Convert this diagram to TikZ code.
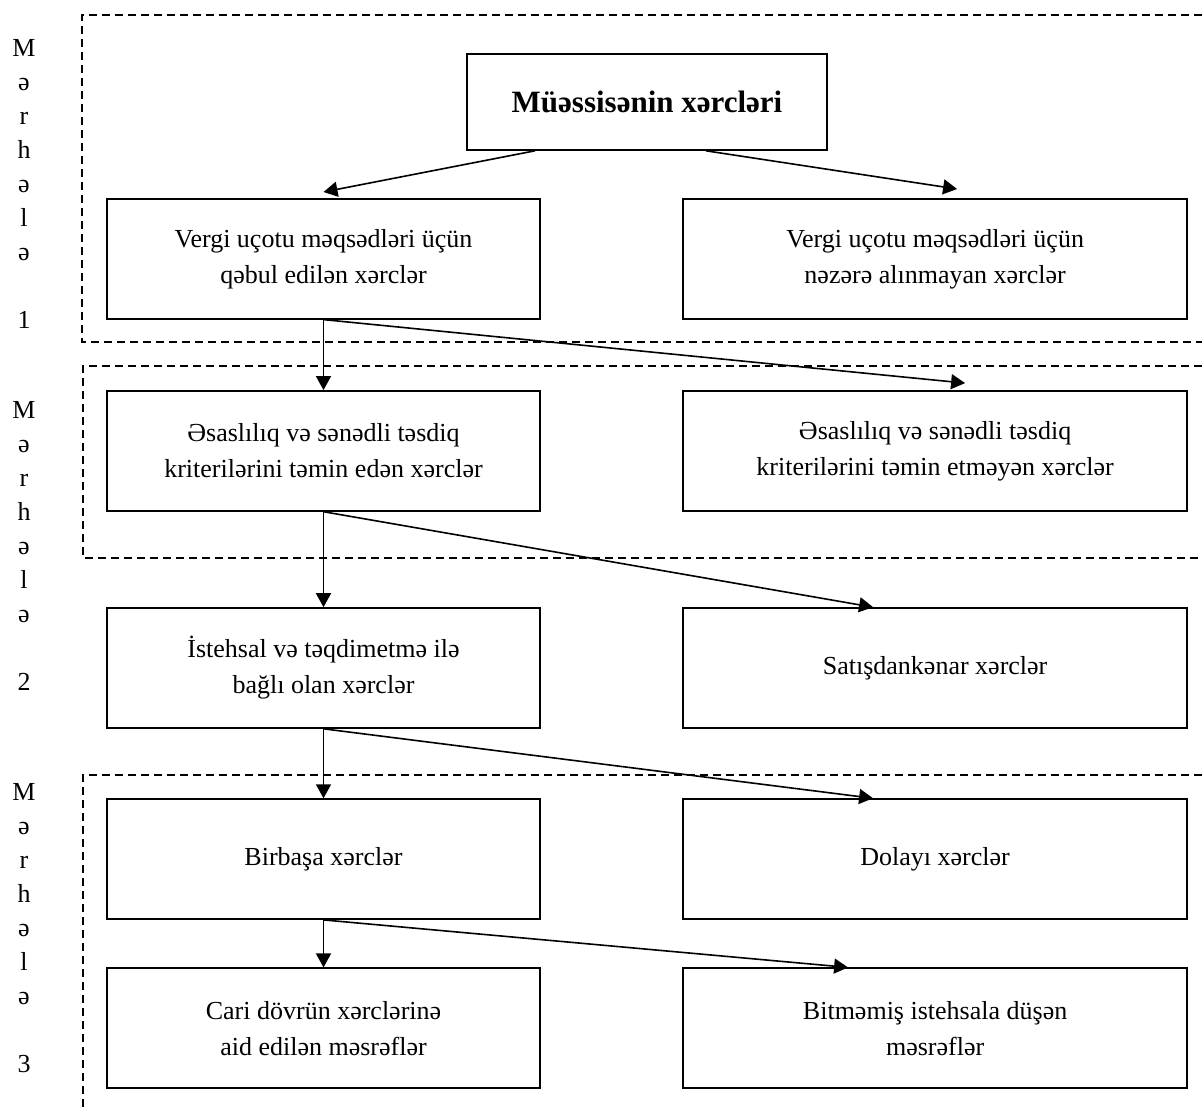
\documentclass[tikz,border=0pt]{standalone}
\usepackage{fontspec}
\setmainfont{Liberation Serif}
\usepackage{tikz}
\usetikzlibrary{arrows.meta, positioning}

\begin{document}
\begin{tikzpicture}[x=1pt, y=-1pt, >={Triangle[length=14pt, width=15pt]},
  box/.style={draw, line width=1.6pt, align=center, inner sep=0pt, font=\fontsize{26}{36}\selectfont},
  lbox/.style={box, minimum width=433pt, minimum height=120pt},
  rbox/.style={box, minimum width=504pt, minimum height=120pt},
  stage/.style={align=center, inner sep=0pt, font=\fontsize{26}{34}\selectfont},
  frame/.style={line width=1.3pt, dash pattern=on 8pt off 5pt},
  link/.style={->, line width=1.6pt}]

\useasboundingbox (0,0) rectangle (1202,1106);

% Stage frames
\draw[frame] (1215,15) -| (82,342) -- (1215,342);
\draw[frame] (1215,366) -| (83,558) -- (1215,558);
\draw[frame] (1215,775) -| (83,1115);

% Stage labels
\node[stage] (st1) at (24,184) {M\\ə\\r\\h\\ə\\l\\ə\\[34pt]1};
\node[stage] (st2) at (24,546) {M\\ə\\r\\h\\ə\\l\\ə\\[34pt]2};
\node[stage] (st3) at (24,928) {M\\ə\\r\\h\\ə\\l\\ə\\[34pt]3};

% Nodes
\node[box, minimum width=360pt, minimum height=96pt, font=\bfseries\fontsize{31}{36}\selectfont] (cost) at (647,102) {Müəssisənin xərcləri};

\node[lbox, anchor=north] (tax) at (323.5,198) {Vergi uçotu məqsədləri üçün\\qəbul edilən xərclər};
\node[rbox, right=141.5pt of tax] (notax) {Vergi uçotu məqsədləri üçün\\nəzərə alınmayan xərclər};

\node[lbox, below=70.5pt of tax] (valid) {Əsaslılıq və sənədli təsdiq\\kriterilərini təmin edən xərclər};
\node[rbox, right=141.5pt of valid] (novalid) {Əsaslılıq və sənədli təsdiq\\kriterilərini təmin etməyən xərclər};

\node[lbox, below=95.5pt of valid] (prod) {İstehsal və təqdimetmə ilə\\bağlı olan xərclər};
\node[rbox, right=141.5pt of prod] (nonsale) {Satışdankənar xərclər};

\node[lbox, below=69.5pt of prod] (direct) {Birbaşa xərclər};
\node[rbox, right=141.5pt of direct] (indirect) {Dolayı xərclər};

\node[lbox, below=47.5pt of direct] (curr) {Cari dövrün xərclərinə\\aid edilən məsrəflər};
\node[rbox, right=141.5pt of curr] (wip) {Bitməmiş istehsala düşən\\məsrəflər};

% Arrows
\draw[link] ([xshift=-112pt]cost.south) -- ([yshift=6pt]tax.north);
\draw[link] ([xshift=59pt]cost.south) -- ([xshift=22pt, yshift=9pt]notax.north);

\draw[link] (tax.south) -- (valid.north);
\draw[link] (tax.south) -- ([xshift=30pt, yshift=7pt]novalid.north);

\draw[link] (valid.south) -- (prod.north);
\draw[link] (valid.south) -- ([xshift=-62pt]nonsale.north);

\draw[link] (prod.south) -- (direct.north);
\draw[link] (prod.south) -- ([xshift=-62pt]indirect.north);

\draw[link] (direct.south) -- (curr.north);
\draw[link] (direct.south) -- ([xshift=-87pt]wip.north);

\end{tikzpicture}
\end{document}
